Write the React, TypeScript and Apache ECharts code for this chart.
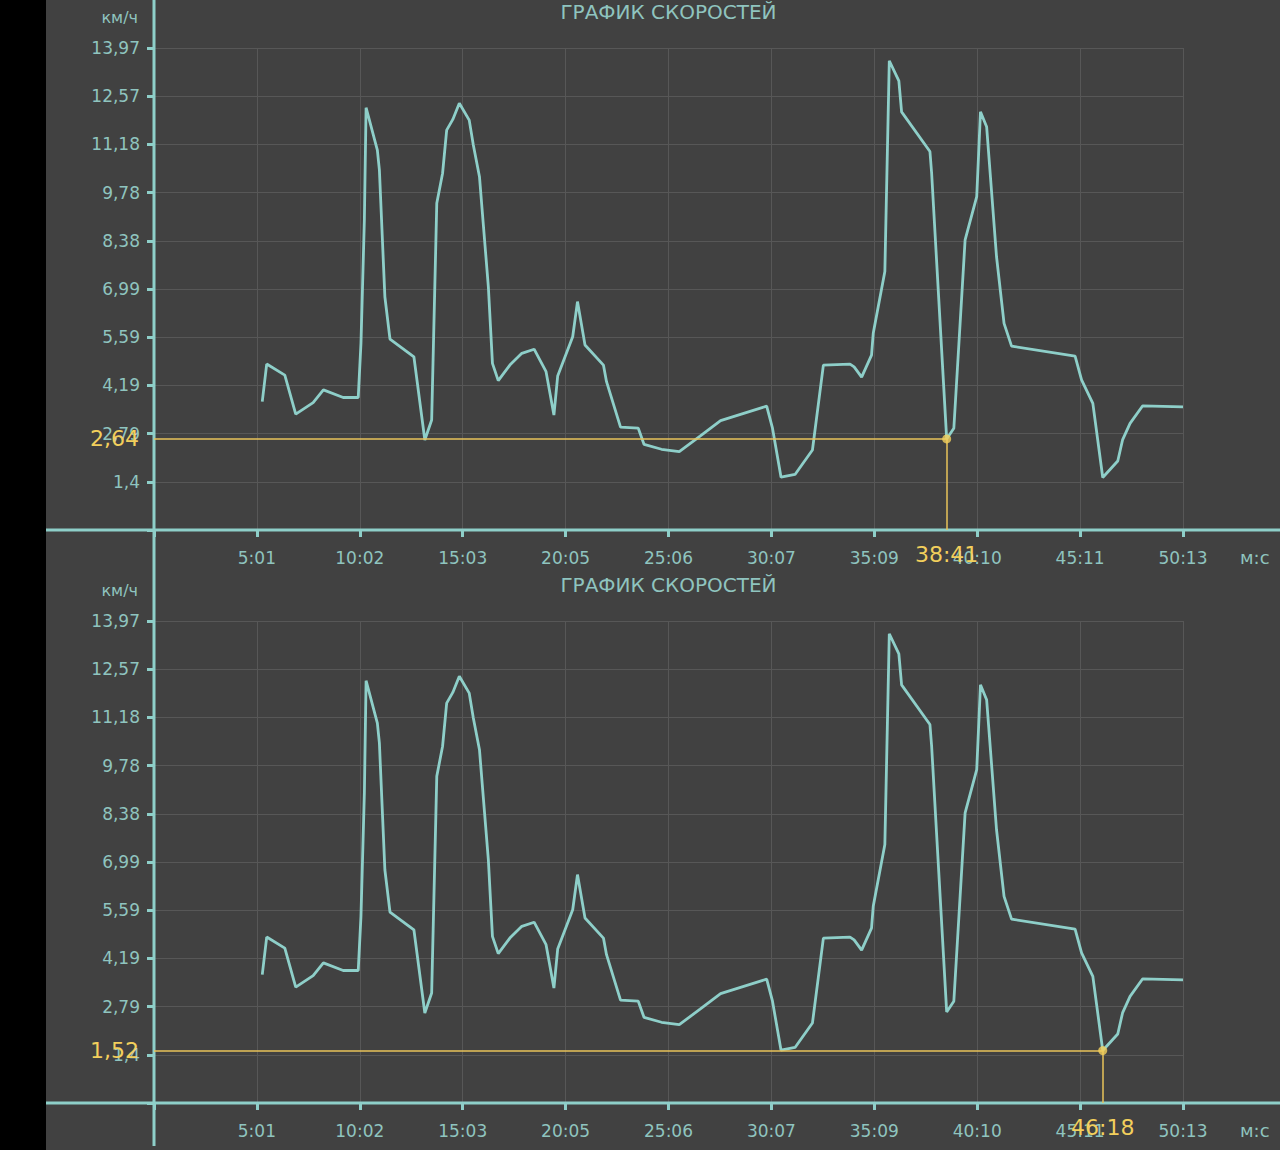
import React, { useEffect, useRef } from "react";
import * as echarts from "echarts";

// time in seconds since start
const TIME_S = [
  317, 330, 383, 415, 466, 496, 554, 598, 606, 616, 621, 654, 660, 676, 691, 761,
  793, 813, 828, 845, 857, 875, 894, 923, 935, 953, 964, 979, 991, 1008, 1042, 1077,
  1113, 1148, 1171, 1182, 1226, 1240, 1262, 1316, 1325, 1366, 1418, 1435, 1486, 1538,
  1599, 1659, 1794, 1811, 1836, 1877, 1928, 1960, 2038, 2050, 2072, 2101, 2106, 2140,
  2153, 2181, 2189, 2272, 2277, 2321, 2342, 2375, 2409, 2420, 2438, 2467, 2489, 2511,
  2697, 2716, 2749, 2778, 2822, 2836, 2858, 2895, 3013,
];
// speed km/h
const SPEED = [
  3.72, 4.81, 4.49, 3.36, 3.69, 4.06, 3.84, 3.84, 5.41, 8.99, 12.24, 11.01, 10.43, 6.76, 5.53, 5.02,
  2.61, 3.19, 9.47, 10.34, 11.59, 11.9, 12.37, 11.88, 11.16, 10.24, 8.89, 7.05, 4.83, 4.33, 4.78, 5.12,
  5.24, 4.59, 3.33, 4.46, 5.6, 6.62, 5.36, 4.78, 4.3, 2.98, 2.95, 2.48, 2.34, 2.27,
  2.72, 3.17, 3.59, 2.95, 1.53, 1.61, 2.32, 4.78, 4.81, 4.73, 4.43, 5.07, 5.7, 7.49,
  13.6, 13.02, 12.12, 10.97, 10.34, 2.64, 2.95, 8.41, 9.66, 12.12, 11.69, 7.92, 5.99, 5.33,
  5.04, 4.35, 3.67, 1.52, 2.0, 2.61, 3.09, 3.6, 3.57,
];

// cursor for each panel (top, bottom)
const CURSOR_TIMES = [2321, 2778];
const CURSOR_SPEEDS = [2.64, 1.52];

const X_MAX = 3013;
const X_INTERVAL = 301.3;
const Y_MAX = 13.97;
const Y_INTERVAL = 1.397;

const TITLE = "ГРАФИК СКОРОСТЕЙ";
const Y_UNIT = "км/ч";
const X_UNIT = "м:с";

const BG = "#414141";
const GRID_LINE = "#575757";
const TEAL = "#8ecfc9";
const TEXT = "#8fc4bf";
const YELLOW_LINE = "#e8c35a";
const YELLOW_TEXT = "#f2cf5c";
const FONT = "DejaVu Sans";

const fmtTime = (v: number) => {
  if (v < 1e-6) return "";
  const s = Math.floor(v + 1e-6);
  const m = Math.floor(s / 60);
  const sec = s % 60;
  return `${m}:${String(sec).padStart(2, "0")}`;
};
const fmtSpeed = (v: number) => {
  if (v < 1e-6) return "";
  return String(Math.round(v * 100 + 1e-6) / 100).replace(".", ",");
};

const CHART_W = 1234;
const CHART_H = 1150;
const PANEL_H = 573;
const GRID_LEFT = 108;
const GRID_W = 1029;
const GRID_TOP = 48;
const GRID_H = 482;

export default function App() {
  const ref = useRef<HTMLDivElement>(null);

  useEffect(() => {
    if (!ref.current) return;
    const chart = echarts.init(ref.current, null, { renderer: "svg" });
    const lineData = TIME_S.map((t, i) => [t, SPEED[i]]);

    const grids: any[] = [];
    const xAxes: any[] = [];
    const yAxes: any[] = [];
    const series: any[] = [];
    const titles: any[] = [];
    const graphics: any[] = [];

    [0, 1].forEach((p) => {
      const top = p * PANEL_H + GRID_TOP;
      grids.push({ left: GRID_LEFT, top, width: GRID_W, height: GRID_H, containLabel: false });
      titles.push({
        text: TITLE,
        left: GRID_LEFT + GRID_W / 2 - 5,
        top: p * PANEL_H - 3,
        textAlign: "center",
        textStyle: { color: TEXT, fontFamily: FONT, fontSize: 20, fontWeight: "normal" },
      });
      const xCommon = {
        type: "value",
        gridIndex: p,
        min: 0,
        max: X_MAX,
        interval: X_INTERVAL,
      };
      xAxes.push({
        ...xCommon,
        name: X_UNIT,
        nameLocation: "end",
        nameGap: 57,
        nameTextStyle: { color: TEXT, fontFamily: FONT, fontSize: 18, verticalAlign: "top", padding: [18, 0, 0, 0] },
        axisLine: { show: false },
        axisTick: { show: true, inside: false, length: 7, lineStyle: { color: TEAL, width: 3 } },
        axisLabel: { color: TEXT, fontFamily: FONT, fontSize: 17, margin: 19, formatter: fmtTime },
        splitLine: { show: true, lineStyle: { color: GRID_LINE, width: 1 } },
      });
      xAxes.push({
        ...xCommon,
        axisLine: { show: false },
        axisTick: { show: true, inside: true, length: 7, lineStyle: { color: TEAL, width: 3 } },
        axisLabel: { show: false },
        splitLine: { show: false },
      });
      const yCommon = {
        type: "value",
        gridIndex: p,
        min: 0,
        max: Y_MAX,
        interval: Y_INTERVAL,
      };
      yAxes.push({
        ...yCommon,
        name: Y_UNIT,
        nameLocation: "end",
        nameGap: 31,
        nameTextStyle: { color: TEXT, fontFamily: FONT, fontSize: 16, align: "right", verticalAlign: "middle", padding: [0, 16, 0, 0] },
        axisLine: { show: false },
        axisTick: { show: true, inside: false, length: 7, lineStyle: { color: TEAL, width: 3 } },
        axisLabel: { color: TEXT, fontFamily: FONT, fontSize: 17, margin: 14, formatter: fmtSpeed },
        splitLine: { show: true, lineStyle: { color: GRID_LINE, width: 1 } },
      });
      yAxes.push({
        ...yCommon,
        axisLine: { show: false },
        axisTick: { show: true, inside: true, length: 7, lineStyle: { color: TEAL, width: 3 } },
        axisLabel: { show: false },
        splitLine: { show: false },
      });

      // extended axis lines (cross through the whole panel)
      graphics.push({
        type: "line",
        shape: { x1: GRID_LEFT, y1: p * PANEL_H, x2: GRID_LEFT, y2: (p + 1) * PANEL_H },
        style: { stroke: TEAL, lineWidth: 3 },
        z: 5,
      });
      graphics.push({
        type: "line",
        shape: { x1: 0, y1: top + GRID_H, x2: CHART_W, y2: top + GRID_H },
        style: { stroke: TEAL, lineWidth: 3 },
        z: 5,
      });

      series.push({
        type: "line",
        xAxisIndex: p * 2,
        yAxisIndex: p * 2,
        data: lineData,
        showSymbol: false,
        lineStyle: { color: TEAL, width: 2.8 },
        z: 3,
        silent: true,
      });

      const ct = CURSOR_TIMES[p];
      const cv = CURSOR_SPEEDS[p];
      series.push({
        type: "scatter",
        xAxisIndex: p * 2,
        yAxisIndex: p * 2,
        data: [[ct, cv]],
        symbolSize: 9,
        itemStyle: { color: YELLOW_TEXT },
        z: 6,
        silent: true,
        markLine: {
          silent: true,
          symbol: ["none", "none"],
          lineStyle: { color: YELLOW_LINE, width: 1.5, type: "solid" },
          data: [
            [
              {
                coord: [0, cv],
                label: {
                  show: true,
                  position: "start",
                  distance: 15,
                  formatter: fmtSpeed(cv),
                  color: YELLOW_TEXT,
                  fontFamily: FONT,
                  fontSize: 22,
                },
              },
              { coord: [ct, cv] },
            ],
            [
              {
                coord: [ct, cv],
                label: {
                  show: true,
                  position: "end",
                  distance: 13,
                  formatter: fmtTime(ct),
                  color: YELLOW_TEXT,
                  fontFamily: FONT,
                  fontSize: 22,
                },
              },
              { coord: [ct, 0] },
            ],
          ],
        },
      });
    });

    chart.setOption({
      animation: false,
      backgroundColor: BG,
      textStyle: { fontFamily: FONT },
      title: titles,
      grid: grids,
      xAxis: xAxes,
      yAxis: yAxes,
      series,
      graphic: graphics,
    });

    return () => chart.dispose();
  }, []);

  return (
    <div style={{ position: "fixed", left: 0, top: 0, width: 1280, height: 1150, background: "#000", overflow: "hidden" }}>
      <div ref={ref} style={{ position: "absolute", left: 46, top: 0, width: CHART_W, height: CHART_H }} />
    </div>
  );
}
